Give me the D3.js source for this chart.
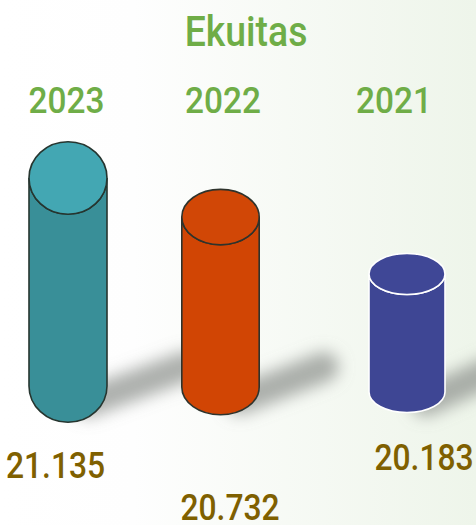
<!DOCTYPE html>
<html>
<head>
<meta charset="utf-8">
<script src="https://cdn.jsdelivr.net/npm/d3@7"></script>
<style>
  html, body { margin: 0; padding: 0; background: #fff; }
  svg { display: block; }
  text { font-family: Roboto, "Noto Sans", sans-serif; font-weight: 500; }
</style>
</head>
<body>
<script>
const width = 476,
    height = 525;

// data
const title = 'Ekuitas';
const years = ['2023', '2022', '2021'];
const values = [21.135, 20.732, 20.183];
const valueLabels = ['21.135', '20.732', '20.183'];

// layout (3d perspective of the original chart)
const x = d3.scaleOrdinal().domain(years).range([68, 220.5, 407]);
const floor = d3.scaleOrdinal().domain(years).range([386, 387, 392]);
const rxs = d3.scaleOrdinal().domain(years).range([39, 38.7, 38]);
const rys = d3.scaleOrdinal().domain(years).range([36.3, 27.7, 20.5]);
const h = d3.scaleLinear().domain([18.933, 21.135]).range([0, 208]);

const sideColor = d3.scaleOrdinal().domain(years).range(['#398f98', '#d14504', '#3e4694']);
const topColor = d3.scaleOrdinal().domain(years).range(['#43a7b3', '#d14706', '#3f4796']);
const edgeColor = d3.scaleOrdinal().domain(years).range(['#26352f', '#2e332c', '#ffffff']);

const yearShift = [-1.5, 2.5, -13];
const valueShift = [-12.5, 9.5, 17];
const valueBase = [478, 520, 470];

const bars = years.map((yr, i) => ({year: yr, value: values[i], label: valueLabels[i], i: i}));

const svg = d3.select('body').append('svg')
    .attr('width', width)
    .attr('height', height);

const defs = svg.append('defs');
const bg = defs.append('linearGradient')
    .attr('id', 'bg')
    .attr('x1', 0).attr('y1', 0)
    .attr('x2', 1).attr('y2', 0);
bg.append('stop').attr('offset', '0%').attr('stop-color', '#ffffff');
bg.append('stop').attr('offset', '28%').attr('stop-color', '#fefefe');
bg.append('stop').attr('offset', '100%').attr('stop-color', '#eef5ea');

defs.append('filter')
    .attr('id', 'blur')
    .attr('filterUnits', 'userSpaceOnUse')
    .attr('x', 0).attr('y', 0)
    .attr('width', width).attr('height', height)
    .append('feGaussianBlur')
    .attr('stdDeviation', 8);

svg.append('rect')
    .attr('width', width)
    .attr('height', height)
    .attr('fill', 'url(#bg)');

// shadows
svg.append('g').selectAll('line')
    .data(bars)
    .enter()
    .append('line')
    .attr('x1', d => x(d.year) + rxs(d.year) * 0.5)
    .attr('y1', d => floor(d.year) + rys(d.year) * 0.45)
    .attr('x2', d => x(d.year) + rxs(d.year) + h(d.value) * 0.38)
    .attr('y2', d => floor(d.year) - 20)
    .attr('stroke', '#8a8e8a')
    .attr('stroke-opacity', 0.7)
    .attr('stroke-width', 30)
    .attr('stroke-linecap', 'round')
    .attr('filter', 'url(#blur)');

// cylinders
function bodyPath(d) {
    const cx = x(d.year), rx = rxs(d.year), ry = rys(d.year);
    const bot = floor(d.year), top = bot - h(d.value);
    return 'M' + (cx - rx) + ',' + top +
        'L' + (cx - rx) + ',' + bot +
        'A' + rx + ',' + ry + ' 0 0 0 ' + (cx + rx) + ',' + bot +
        'L' + (cx + rx) + ',' + top +
        'A' + rx + ',' + ry + ' 0 0 1 ' + (cx - rx) + ',' + top + 'Z';
}

const cyl = svg.append('g').selectAll('g')
    .data(bars)
    .enter()
    .append('g');

cyl.append('path')
    .attr('d', bodyPath)
    .attr('fill', d => sideColor(d.year))
    .attr('stroke', d => edgeColor(d.year))
    .attr('stroke-width', 1.6);

cyl.append('ellipse')
    .attr('cx', d => x(d.year))
    .attr('cy', d => floor(d.year) - h(d.value))
    .attr('rx', d => rxs(d.year))
    .attr('ry', d => rys(d.year))
    .attr('fill', d => topColor(d.year))
    .attr('stroke', d => edgeColor(d.year))
    .attr('stroke-width', 1.6);

// texts
svg.append('text')
    .attr('transform', 'translate(246,45.5) scale(0.89,1)')
    .attr('text-anchor', 'middle')
    .attr('font-size', 42)
    .attr('fill', '#6fad47')
    .text(title);

svg.append('g').selectAll('text')
    .data(bars)
    .enter()
    .append('text')
    .attr('transform', d => 'translate(' + (x(d.year) + yearShift[d.i]) + ',112.5) scale(0.89,1)')
    .attr('text-anchor', 'middle')
    .attr('font-size', 37.5)
    .attr('fill', '#6fad47')
    .text(d => d.year);

svg.append('g').selectAll('text')
    .data(bars)
    .enter()
    .append('text')
    .attr('transform', d => 'translate(' + (x(d.year) + valueShift[d.i]) + ',' + valueBase[d.i] + ') scale(0.86,1)')
    .attr('text-anchor', 'middle')
    .attr('font-size', 37)
    .attr('fill', '#7f6000')
    .text(d => d.label);
</script>
</body>
</html>
